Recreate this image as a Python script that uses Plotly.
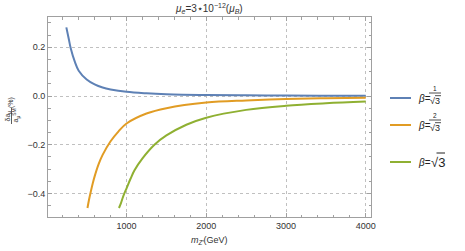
import plotly.graph_objects as go

# ---- data ----
m_blue = [245, 275, 300, 350, 400, 500, 600, 700, 800, 1000, 1250, 1500, 2000, 2500, 3000, 3500, 4000]
d_blue = [0.282, 0.235, 0.196, 0.142, 0.104, 0.068, 0.048, 0.035, 0.027, 0.017, 0.011, 0.0075, 0.0043, 0.0028, 0.0019, 0.0014, 0.0011]

m_orange = [510, 530, 550, 575, 600, 650, 700, 800, 900, 1000, 1250, 1500, 2000, 2500, 3000, 3500, 4000]
d_orange = [-0.46, -0.425, -0.395, -0.36, -0.33, -0.28, -0.242, -0.186, -0.145, -0.113, -0.072, -0.050, -0.027, -0.018, -0.012, -0.009, -0.007]

m_green = [905, 930, 950, 975, 1000, 1050, 1100, 1200, 1350, 1500, 1750, 2000, 2500, 3000, 3500, 4000]
d_green = [-0.46, -0.44, -0.42, -0.398, -0.379, -0.34, -0.305, -0.256, -0.2, -0.162, -0.118, -0.089, -0.057, -0.040, -0.030, -0.023]

series_names = ["β=1/√3", "β=2/√3", "β=√3"]
colors = ["#5E81B5", "#E19C24", "#8FB032"]

x_ticks = [1000, 2000, 3000, 4000]
y_ticks = [-0.4, -0.2, 0.0, 0.2]

W, H = 465, 251
ML, MR, MT, MB = 48, 94, 17, 34
PW, PH = W - ML - MR, H - MT - MB

def px(x):
    return (x - ML) / PW

def py(y):
    return 1 - (y - MT) / PH

FONT = "Liberation Sans, Arial, sans-serif"
TXT = "#333333"

fig = go.Figure()
for mx, dy, c, n in zip([m_blue, m_orange, m_green], [d_blue, d_orange, d_green], colors, series_names):
    fig.add_trace(go.Scatter(x=mx, y=dy, mode="lines", name=n,
                             line=dict(color=c, width=2, shape="spline", smoothing=1.0),
                             showlegend=False, hoverinfo="skip"))

axis_common = dict(
    showline=True, linecolor="#a0a0a0", linewidth=1, mirror="allticks",
    ticks="inside", ticklen=4, tickcolor="#a0a0a0", tickwidth=1,
    showgrid=True, gridcolor="#c0c0c0", griddash="dot", gridwidth=1,
    zeroline=False,
    tickfont=dict(family=FONT, size=9, color=TXT),
)

fig.update_xaxes(range=[15, 4066], tickvals=x_ticks, ticktext=[str(v) for v in x_ticks],
                 minor=dict(ticks="inside", ticklen=2.5, tickcolor="#a0a0a0", dtick=200, tick0=0, showgrid=False),
                 **axis_common)
fig.update_yaxes(range=[-0.497, 0.3245], tickvals=y_ticks, ticktext=["−0.4", "−0.2", "0.0", "0.2"],
                 minor=dict(ticks="inside", ticklen=2.5, tickcolor="#a0a0a0", dtick=0.05, tick0=0, showgrid=False),
                 **axis_common)

ann = []
shapes = []

def text(t, x, y, size, xanchor="center", angle=0, color=TXT):
    ann.append(dict(text=t, x=px(x), y=py(y), xref="paper", yref="paper", showarrow=False,
                    textangle=angle, font=dict(family=FONT, size=size, color=color),
                    xanchor=xanchor, yanchor="middle"))

def hline(x0, x1, y, color="#222222", width=0.8):
    shapes.append(dict(type="line", xref="paper", yref="paper", x0=px(x0), x1=px(x1), y0=py(y), y1=py(y),
                       line=dict(color=color, width=width)))

def vline(x, y0, y1, color="#222222", width=0.8):
    shapes.append(dict(type="line", xref="paper", yref="paper", x0=px(x), x1=px(x), y0=py(y0), y1=py(y1),
                       line=dict(color=color, width=width)))

# title
text("<i>μ<sub>e</sub></i>=3⋆10<sup>−12</sup>(<i>μ<sub>B</sub></i>)", 209, 9, 10)
# x label
text("<i>m<sub>Z′</sub></i>(GeV)", 209, 240, 9)
# y label as fraction
text("δa<sub>μ</sub>", 7.5, 116, 7, angle=-90)
text("a<sub>μ</sub><sup>SM</sup>", 15.5, 116, 7, angle=-90)
vline(11.5, 108, 124, color=TXT)
text("(%)", 11, 103, 7, angle=-90)

# legend (manual)
leg_y = [98, 125, 162]
for yc, c in zip(leg_y, colors):
    hline(390, 411, yc, color=c, width=2)
    text("<i>β</i>=", 415.5, yc, 10, xanchor="left", color="#222222")
# fractions for blue and orange
for yc, num in zip(leg_y[:2], ["1", "2"]):
    text(num, 435, yc - 9.5, 6.5, color="#222222")
    hline(429, 441, yc - 5)
    text("√3", 435, yc + 3, 9, color="#222222")
    hline(435, 441, yc - 2.3)
# green: sqrt 3
text("√3", 429, leg_y[2] + 0.5, 13, xanchor="left", color="#222222")
hline(436.5, 445, 153, width=1)

fig.update_layout(width=W, height=H, margin=dict(l=ML, r=MR, t=MT, b=MB),
                  paper_bgcolor="white", plot_bgcolor="white",
                  annotations=ann, shapes=shapes, showlegend=False,
                  hovermode=False, font=dict(family=FONT))
fig.write_html("out.html", config={"displayModeBar": False, "staticPlot": True},
               post_script="document.body.style.margin='0';document.body.style.overflow='hidden';")
